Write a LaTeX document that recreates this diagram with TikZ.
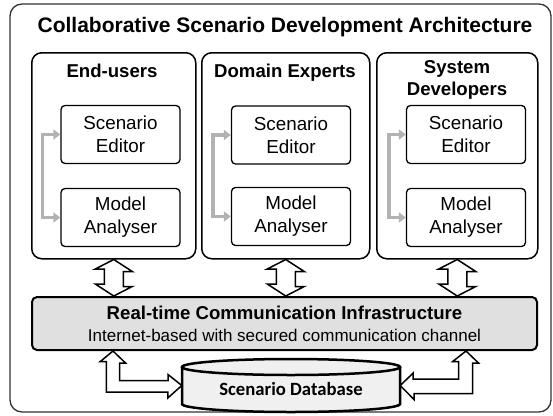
\documentclass[tikz,border=0pt]{standalone}
\usepackage{fontspec}
\setmainfont{Liberation Sans}
\newfontfamily\dbfont{Carlito}
\usetikzlibrary{arrows.meta,calc}

\begin{document}
\begin{tikzpicture}[x=1pt,y=-1pt,
  outerbox/.style={draw=black!80, line width=1.3pt, rounded corners=12pt},
  colbox/.style={draw=black, line width=1.5pt, rounded corners=10pt, anchor=north west,
    inner sep=0pt, minimum height=206pt},
  toolbox/.style={draw=black, line width=1.3pt, rounded corners=4pt, minimum width=119pt,
    minimum height=58pt, inner sep=0pt, align=center, font=\fontsize{18.8}{23}\selectfont},
  heading/.style={anchor=base, inner sep=0pt, align=center, font=\fontsize{18.6}{22}\selectfont\bfseries},
  loopback/.style={draw=black!30, line width=3.5pt,
    {Triangle[length=7pt,width=10pt]}-{Triangle[length=7pt,width=10pt]}},
  blockarrow/.style={draw=black, line width=1.5pt, fill=white, line join=miter},
  rtcbox/.style={draw=black, line width=2pt, rounded corners=5pt, fill=black!12,
    minimum width=505pt, minimum height=53pt, inner sep=0pt},
]
\useasboundingbox (0,0) rectangle (553,415);

% outer frame and title
\draw[outerbox] (10,4) rectangle (551,412);
\node[heading, font=\fontsize{21}{24}\selectfont\bfseries] (title) at (285,32)
  {Collaborative Scenario Development Architecture};

% stakeholder columns
\node[colbox, minimum width=164pt] (col1) at (31,52) {};
\node[colbox, minimum width=168pt] (col2) at (201,52) {};
\node[colbox, minimum width=161pt] (col3) at (376,52) {};

\node[heading] (h1) at (112,77) {End-users};
\node[heading] (h2) at (285,77) {Domain Experts};
\node[heading] (h3) at (457,95) {System\\Developers};

% tools inside each column
\node[toolbox] (ed1) at (120.5,134.5) {Scenario\\Editor};
\node[toolbox] (ma1) at (120.5,217.5) {Model\\Analyser};
\node[toolbox] (ed2) at (291,135) {Scenario\\Editor};
\node[toolbox] (ma2) at (291,216.5) {Model\\Analyser};
\node[toolbox] (ed3) at (466,134.5) {Scenario\\Editor};
\node[toolbox] (ma3) at (466,217.5) {Model\\Analyser};

% editor <-> analyser links
\draw[loopback] (ed1.west) -- ++(-18,0) |- (ma1.west);
\draw[loopback] (ed2.west) -- ++(-18,0) |- (ma2.west);
\draw[loopback] (ed3.west) -- ++(-17,0) |- (ma3.west);

% communication infrastructure
\node[rtcbox] (rtc) at (284.5,323.5) {};
\node[heading] (rtct) at (284.5,319) {Real-time Communication Infrastructure};
\node[anchor=base, inner sep=0pt, font=\fontsize{17}{20}\selectfont] (rtcs) at (284.5,341)
  {Internet-based with secured communication channel};

% two-way block arrows between columns and infrastructure
\foreach \c in {col1,col2,col3}{
  \draw[blockarrow] (\c.south) -- ++(18.5,12) -- ++(-9,0) -- ++(0,15) -- ++(9,0)
    -- (\c.south |- rtc.north) -- ++(-18.5,-12) -- ++(9,0) -- ++(0,-15) -- ++(-9,0) -- cycle;
}

% scenario database cylinder
\node[inner sep=0pt, minimum width=218pt, minimum height=53pt] (db) at (291,385.5) {};
\fill[black!6] (182,367) -- (182,404)
  .. controls (182,408.4) and (231.8,412) .. (291,412)
  .. controls (350.2,412) and (400,408.4) .. (400,404) -- (400,367) -- cycle;
\draw[line width=2.5pt] (182,367) -- (182,404)
  .. controls (182,408.4) and (231.8,412) .. (291,412)
  .. controls (350.2,412) and (400,408.4) .. (400,404) -- (400,367);
\draw[line width=2.5pt, fill=black!6] (291,367) ellipse (109 and 8);
\node[anchor=base, inner sep=0pt, font=\fontsize{18.7}{22}\selectfont\dbfont\bfseries] (dbt)
  at (291,395) {Scenario Database};

% block arrows between infrastructure and database
\coordinate (upL) at (rtc.south -| 113,0);
\coordinate (upR) at (rtc.south -| 466,0);
\draw[blockarrow] (upL) -- ++(12.5,12) -- ++(-6,0) -- ++(0,17.5) -- ++(48.5,0) -- ++(0,-6)
  -- (db.west) -- ++(-14,12.5) -- ++(0,-6) -- ++(-61.5,0) -- ++(0,-30.5) -- ++(-6,0) -- cycle;
\draw[blockarrow] (upR) -- ++(12.5,12) -- ++(-6,0) -- ++(0,30.5) -- ++(-58.5,0) -- ++(0,6)
  -- (db.east) -- ++(13,-12.5) -- ++(0,6) -- ++(45.5,0) -- ++(0,-17.5) -- ++(-6,0) -- cycle;
\end{tikzpicture}
\end{document}
